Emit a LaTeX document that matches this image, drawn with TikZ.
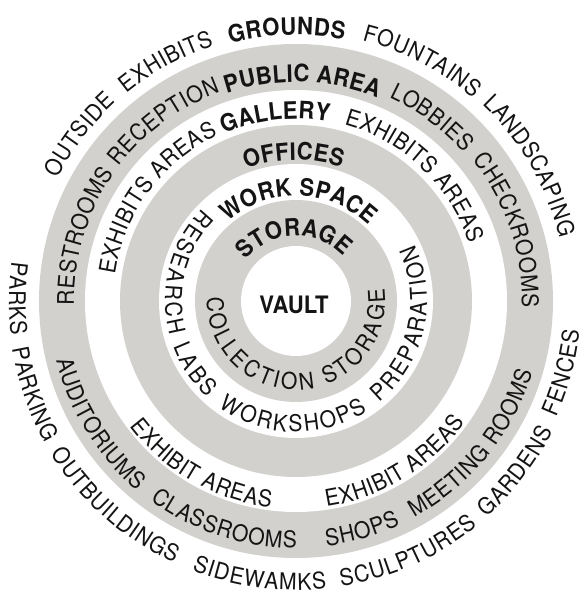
\documentclass[tikz,border=0pt]{standalone}
\usepackage{fontspec}
\setmainfont{TeX Gyre Heros}
\newfontfamily\RingFam[FakeStretch=0.92]{TeX Gyre Heros}
\definecolor{ringgray}{RGB}{211,209,206}
\definecolor{ink}{RGB}{20,20,20}
% fonts: R = regular, B = bold
\newcommand{\FR}{\RingFam\fontsize{23}{27}\selectfont}
\newcommand{\FB}{\RingFam\fontsize{24}{28}\selectfont\bfseries}
\def\SR{21.16}
\def\SB{22.08}
% advance widths (em) of the letters, regular and bold; '-' stands for a space
\def\defw#1#2#3{\expandafter\def\csname wR@#1\endcsname{#2}\expandafter\def\csname wB@#1\endcsname{#3}}
\defw{A}{0.667}{0.722}\defw{B}{0.667}{0.722}\defw{C}{0.722}{0.722}\defw{D}{0.722}{0.722}
\defw{E}{0.667}{0.667}\defw{F}{0.611}{0.611}\defw{G}{0.778}{0.778}\defw{H}{0.722}{0.722}
\defw{I}{0.278}{0.278}\defw{K}{0.667}{0.722}\defw{L}{0.556}{0.611}\defw{M}{0.833}{0.833}
\defw{N}{0.722}{0.722}\defw{O}{0.778}{0.778}\defw{P}{0.667}{0.667}\defw{R}{0.722}{0.722}
\defw{S}{0.667}{0.667}\defw{T}{0.611}{0.611}\defw{U}{0.722}{0.722}\defw{W}{0.944}{0.944}
\defw{X}{0.667}{0.667}\defw{Y}{0.667}{0.667}\defw{-}{0.278}{0.278}
% #1 centre angle, #2 baseline radius (pt), #3 R/B, #4 letters, #5 extra spacing (pt),
% #6 +1 = lower half (tops inward), -1 = upper half (tops outward)
\newcommand{\ArcText}[6]{%
  \edef\ArcSz{\csname S#3\endcsname}%
  \gdef\ArcTotal{0}%
  \foreach \ch in {#4}{%
    \edef\ChW{\csname w#3@\ch\endcsname}%
    \pgfmathsetmacro\ArcTmp{\ArcTotal+\ChW*\ArcSz+#5}%
    \global\let\ArcTotal\ArcTmp}%
  \pgfmathsetmacro\ArcTmp{#1-(#6)*0.5*(\ArcTotal-#5)/#2*57.29578}%
  \global\let\ArcPos\ArcTmp
  \foreach \ch in {#4}{%
    \edef\ChW{\csname w#3@\ch\endcsname}%
    \pgfmathsetmacro\ArcMid{\ArcPos+(#6)*0.5*\ChW*\ArcSz/#2*57.29578}%
    \if\ch-\else
      \node[anchor=base,inner sep=0pt,outer sep=0pt,font=\csname F#3\endcsname,text=ink,rotate={\ArcMid+(#6)*90}] at (\ArcMid:#2pt) {\ch};
    \fi
    \pgfmathsetmacro\ArcTmp{\ArcPos+(#6)*(\ChW*\ArcSz+#5)/#2*57.29578}%
    \global\let\ArcPos\ArcTmp
  }%
}
\newcommand{\TopW}[5]{\ArcText{#1}{#2}{#3}{#4}{#5}{-1}}
\newcommand{\BotW}[5]{\ArcText{#1}{#2}{#3}{#4}{#5}{1}}
\begin{document}
\begin{tikzpicture}[x=1pt,y=1pt]
\useasboundingbox (-296,-295) rectangle (288,301);
% rings
\fill[ringgray] (0,0) circle[radius=257pt];
\fill[white] (0,0) circle[radius=211pt];
\fill[ringgray] (0,0) circle[radius=176pt];
\fill[white] (0,0) circle[radius=137pt];
\fill[ringgray] (0,0) circle[radius=101pt];
\fill[white] (0,0) circle[radius=55pt];
% grounds (outer ring)
\TopW{92}{266}{B}{G,R,O,U,N,D,S}{0.4}
\TopW{118.5}{268}{R}{E,X,H,I,B,I,T,S}{0.5}
\TopW{142.5}{268}{R}{O,U,T,S,I,D,E}{0.5}
\TopW{62.3}{269}{R}{F,O,U,N,T,A,I,N,S}{0.5}
\TopW{30}{271}{R}{L,A,N,D,S,C,A,P,I,N,G}{0.5}
\BotW{179.5}{287}{R}{P,A,R,K,S}{0.8}
\BotW{199.5}{288}{R}{P,A,R,K,I,N,G}{0.8}
\BotW{228.5}{289}{R}{O,U,T,B,U,I,L,D,I,N,G,S}{0.8}
\BotW{262.5}{289}{R}{S,I,D,E,W,A,M,K,S}{1}
\BotW{294}{289}{R}{S,C,U,L,P,T,U,R,E,S}{1}
\BotW{322.3}{288}{R}{G,A,R,D,E,N,S}{0.8}
\BotW{345}{285}{R}{F,E,N,C,E,S}{0.8}
% public area
\TopW{88.3}{219}{B}{P,U,B,L,I,C,-,A,R,E,A}{0.3}
\TopW{126.4}{222}{R}{R,E,C,E,P,T,I,O,N}{0.5}
\TopW{163}{222}{R}{R,E,S,T,R,O,O,M,S}{0.5}
\TopW{53.5}{224}{R}{L,O,B,B,I,E,S}{0.5}
\TopW{18.5}{226}{R}{C,H,E,C,K,R,O,O,M,S}{0.5}
\BotW{212}{247}{R}{A,U,D,I,T,O,R,I,U,M,S}{0.8}
\BotW{252}{247}{R}{C,L,A,S,S,R,O,O,M,S}{0.8}
\BotW{286}{247}{R}{S,H,O,P,S}{0.8}
\BotW{321}{247}{R}{M,E,E,T,I,N,G,-,R,O,O,M,S}{0.8}
% gallery
\TopW{96.5}{182}{B}{G,A,L,L,E,R,Y}{0.3}
\TopW{143.5}{183}{R}{E,X,H,I,B,I,T,S,-,A,R,E,A,S}{0.5}
\TopW{46.5}{183}{R}{E,X,H,I,B,I,T,S,-,A,R,E,A,S}{0.5}
\BotW{240}{208}{R}{E,X,H,I,B,I,T,-,A,R,E,A,S}{0.6}
\BotW{301.5}{208}{R}{E,X,H,I,B,I,T,-,A,R,E,A,S}{0.6}
% offices
\TopW{91}{141}{B}{O,F,F,I,C,E,S}{0.3}
% work space
\TopW{88.5}{105}{B}{W,O,R,K,-,S,P,A,C,E}{0.3}
\BotW{181.5}{131}{R}{R,E,S,E,A,R,C,H,-,L,A,B,S}{2.8}
\BotW{268.5}{131}{R}{W,O,R,K,S,H,O,P,S}{2.2}
\BotW{347.5}{131}{R}{P,R,E,P,A,R,A,T,I,O,N}{2.2}
% storage
\TopW{92}{65}{B}{S,T,O,R,A,G,E}{0.3}
\BotW{273}{89}{R}{C,O,L,L,E,C,T,I,O,N,-,S,T,O,R,A,G,E}{3}
% vault
\node[font=\FB,text=ink] (vault) at (-2,-4) {VAULT};
\end{tikzpicture}
\end{document}
